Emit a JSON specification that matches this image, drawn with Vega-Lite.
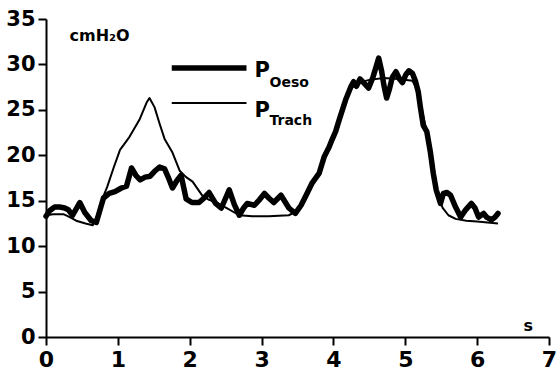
{
  "$schema": "https://vega.github.io/schema/vega-lite/v6.json",
  "width": 503,
  "height": 318,
  "autosize": {"type": "none"},
  "padding": {"left": 46, "top": 19, "right": 8, "bottom": 36},
  "background": "white",
  "config": {
    "view": {"stroke": null},
    "font": "DejaVu Sans",
    "axis": {
      "domainColor": "black",
      "domainWidth": 2,
      "tickColor": "black",
      "tickWidth": 2,
      "labelColor": "black",
      "labelFont": "DejaVu Sans",
      "labelFontWeight": "bold",
      "titleColor": "black",
      "titleFont": "DejaVu Sans",
      "titleFontWeight": "bold",
      "grid": false
    }
  },
  "datasets": {
    "oeso": [
      {"t": 0.00, "p": 13.3}, {"t": 0.05, "p": 13.9}, {"t": 0.12, "p": 14.3}, {"t": 0.19, "p": 14.3},
      {"t": 0.26, "p": 14.2}, {"t": 0.31, "p": 14.0}, {"t": 0.37, "p": 13.4}, {"t": 0.47, "p": 14.8},
      {"t": 0.54, "p": 13.7}, {"t": 0.63, "p": 12.8}, {"t": 0.70, "p": 12.6}, {"t": 0.80, "p": 15.3},
      {"t": 0.88, "p": 15.8}, {"t": 0.96, "p": 16.0}, {"t": 1.05, "p": 16.4}, {"t": 1.12, "p": 16.6},
      {"t": 1.19, "p": 18.6}, {"t": 1.25, "p": 17.8}, {"t": 1.31, "p": 17.3}, {"t": 1.38, "p": 17.6},
      {"t": 1.45, "p": 17.7}, {"t": 1.52, "p": 18.3}, {"t": 1.58, "p": 18.7}, {"t": 1.65, "p": 18.5},
      {"t": 1.70, "p": 17.6}, {"t": 1.76, "p": 16.4}, {"t": 1.82, "p": 17.2}, {"t": 1.88, "p": 17.8},
      {"t": 1.95, "p": 15.2}, {"t": 2.03, "p": 14.8}, {"t": 2.13, "p": 14.8}, {"t": 2.20, "p": 15.3},
      {"t": 2.27, "p": 15.9}, {"t": 2.36, "p": 14.7}, {"t": 2.44, "p": 14.2}, {"t": 2.55, "p": 16.2},
      {"t": 2.62, "p": 14.6}, {"t": 2.69, "p": 13.4}, {"t": 2.75, "p": 14.2}, {"t": 2.80, "p": 14.7},
      {"t": 2.90, "p": 14.5}, {"t": 2.97, "p": 15.1}, {"t": 3.04, "p": 15.8}, {"t": 3.10, "p": 15.3},
      {"t": 3.17, "p": 14.8}, {"t": 3.27, "p": 15.6}, {"t": 3.38, "p": 14.2}, {"t": 3.47, "p": 13.6},
      {"t": 3.55, "p": 14.5}, {"t": 3.62, "p": 15.6}, {"t": 3.70, "p": 16.9}, {"t": 3.80, "p": 18.0},
      {"t": 3.87, "p": 19.8}, {"t": 3.94, "p": 20.9}, {"t": 3.98, "p": 21.7}, {"t": 4.03, "p": 22.6},
      {"t": 4.08, "p": 23.9}, {"t": 4.17, "p": 26.1}, {"t": 4.24, "p": 27.5}, {"t": 4.28, "p": 28.1},
      {"t": 4.32, "p": 27.6}, {"t": 4.37, "p": 28.4}, {"t": 4.42, "p": 28.0}, {"t": 4.49, "p": 27.4},
      {"t": 4.55, "p": 28.6}, {"t": 4.60, "p": 29.9}, {"t": 4.63, "p": 30.7}, {"t": 4.67, "p": 29.3},
      {"t": 4.70, "p": 27.8}, {"t": 4.74, "p": 26.3}, {"t": 4.78, "p": 27.3}, {"t": 4.82, "p": 28.6},
      {"t": 4.87, "p": 29.2}, {"t": 4.92, "p": 28.4}, {"t": 4.96, "p": 28.0}, {"t": 5.01, "p": 28.9},
      {"t": 5.05, "p": 29.3}, {"t": 5.10, "p": 29.0}, {"t": 5.14, "p": 28.2}, {"t": 5.18, "p": 27.0},
      {"t": 5.21, "p": 25.3}, {"t": 5.25, "p": 23.3}, {"t": 5.30, "p": 22.6}, {"t": 5.35, "p": 20.3},
      {"t": 5.39, "p": 18.0}, {"t": 5.43, "p": 16.2}, {"t": 5.49, "p": 14.7}, {"t": 5.53, "p": 15.8},
      {"t": 5.58, "p": 15.9}, {"t": 5.63, "p": 15.6}, {"t": 5.70, "p": 14.3}, {"t": 5.77, "p": 13.2},
      {"t": 5.84, "p": 14.0}, {"t": 5.92, "p": 14.7}, {"t": 5.97, "p": 14.2}, {"t": 6.02, "p": 13.2},
      {"t": 6.09, "p": 13.6}, {"t": 6.13, "p": 13.2}, {"t": 6.20, "p": 12.9}, {"t": 6.25, "p": 13.2},
      {"t": 6.29, "p": 13.6}
    ],
    "trach": [
      {"t": 0.00, "p": 13.4}, {"t": 0.10, "p": 13.5}, {"t": 0.25, "p": 13.5}, {"t": 0.33, "p": 13.2},
      {"t": 0.42, "p": 12.8}, {"t": 0.55, "p": 12.5}, {"t": 0.65, "p": 12.3}, {"t": 0.72, "p": 13.5},
      {"t": 0.80, "p": 15.5}, {"t": 0.85, "p": 16.5}, {"t": 0.94, "p": 18.6}, {"t": 1.03, "p": 20.6},
      {"t": 1.16, "p": 22.0}, {"t": 1.30, "p": 23.9}, {"t": 1.40, "p": 25.8}, {"t": 1.44, "p": 26.3},
      {"t": 1.51, "p": 25.3}, {"t": 1.58, "p": 23.5}, {"t": 1.65, "p": 21.8}, {"t": 1.76, "p": 20.3},
      {"t": 1.86, "p": 18.3}, {"t": 1.95, "p": 17.6}, {"t": 2.04, "p": 17.1}, {"t": 2.11, "p": 16.3},
      {"t": 2.18, "p": 15.5}, {"t": 2.27, "p": 15.1}, {"t": 2.37, "p": 14.8}, {"t": 2.51, "p": 14.2},
      {"t": 2.69, "p": 13.4}, {"t": 2.87, "p": 13.3}, {"t": 3.10, "p": 13.3}, {"t": 3.38, "p": 13.4},
      {"t": 3.52, "p": 14.0}, {"t": 3.60, "p": 15.0}, {"t": 3.70, "p": 16.8}, {"t": 3.80, "p": 18.3},
      {"t": 3.94, "p": 21.0}, {"t": 4.08, "p": 24.0}, {"t": 4.17, "p": 26.0}, {"t": 4.25, "p": 27.4},
      {"t": 4.35, "p": 28.0}, {"t": 4.50, "p": 28.3}, {"t": 4.70, "p": 28.5}, {"t": 4.90, "p": 28.4},
      {"t": 5.10, "p": 28.2}, {"t": 5.18, "p": 27.0}, {"t": 5.25, "p": 24.3}, {"t": 5.32, "p": 21.8},
      {"t": 5.39, "p": 18.2}, {"t": 5.45, "p": 15.8}, {"t": 5.52, "p": 14.2}, {"t": 5.60, "p": 13.4},
      {"t": 5.70, "p": 13.0}, {"t": 5.85, "p": 12.8}, {"t": 6.00, "p": 12.7}, {"t": 6.29, "p": 12.5}
    ],
    "key": [
      {"series": "Oeso", "from": 1.75, "to": 2.79, "level": 29.6, "sub": 27.55, "base": 28.6},
      {"series": "Trach", "from": 1.75, "to": 2.79, "level": 25.75, "sub": 23.3, "base": 24.25}
    ]
  },
  "layer": [
    {
      "data": {"name": "oeso"},
      "mark": {"type": "line", "color": "black", "strokeWidth": 5.5, "strokeJoin": "round", "strokeCap": "round"},
      "encoding": {
        "x": {
          "field": "t", "type": "quantitative",
          "scale": {"domain": [0, 7], "nice": false, "zero": true},
          "axis": {
            "values": [0, 1, 2, 3, 4, 5, 6, 7],
            "format": "d",
            "tickSize": 8,
            "labelFontSize": 22,
            "labelPadding": 4,
            "labelFlush": false,
            "title": "s",
            "titleFontSize": 16,
            "titleAlign": "left",
            "titleBaseline": "alphabetic",
            "titleAnchor": null,
            "titleX": 477,
            "titleY": -7
          }
        },
        "y": {
          "field": "p", "type": "quantitative",
          "scale": {"domain": [0, 35], "nice": false},
          "axis": {
            "values": [0, 5, 10, 15, 20, 25, 30, 35],
            "format": "d",
            "tickSize": 8,
            "labelFontSize": 21,
            "labelPadding": 3,
            "labelFlush": false,
            "title": "cmH₂O",
            "titleFontSize": 16,
            "titleAngle": 0,
            "titleAlign": "left",
            "titleBaseline": "alphabetic",
            "titleAnchor": null,
            "titleX": 23,
            "titleY": 21
          }
        }
      }
    },
    {
      "data": {"name": "trach"},
      "mark": {"type": "line", "color": "black", "strokeWidth": 2, "strokeJoin": "round"},
      "encoding": {
        "x": {"field": "t", "type": "quantitative"},
        "y": {"field": "p", "type": "quantitative"}
      }
    },
    {
      "data": {"name": "key"},
      "mark": {"type": "rule", "color": "black"},
      "encoding": {
        "x": {"field": "from", "type": "quantitative"},
        "x2": {"field": "to"},
        "y": {"field": "level", "type": "quantitative"},
        "strokeWidth": {
          "field": "series", "type": "nominal",
          "scale": {"domain": ["Oeso", "Trach"], "range": [5.5, 2]},
          "legend": null
        }
      }
    },
    {
      "data": {"name": "key"},
      "mark": {"type": "text", "text": "P", "font": "DejaVu Sans", "fontWeight": "bold", "fontSize": 21, "align": "left", "baseline": "alphabetic", "color": "black", "dx": 8},
      "encoding": {
        "x": {"field": "to", "type": "quantitative"},
        "y": {"field": "base", "type": "quantitative"}
      }
    },
    {
      "data": {"name": "key"},
      "mark": {"type": "text", "font": "DejaVu Sans", "fontWeight": "bold", "fontSize": 14, "align": "left", "baseline": "alphabetic", "color": "black", "dx": 23},
      "encoding": {
        "x": {"field": "to", "type": "quantitative"},
        "y": {"field": "sub", "type": "quantitative"},
        "text": {"field": "series"}
      }
    }
  ]
}
